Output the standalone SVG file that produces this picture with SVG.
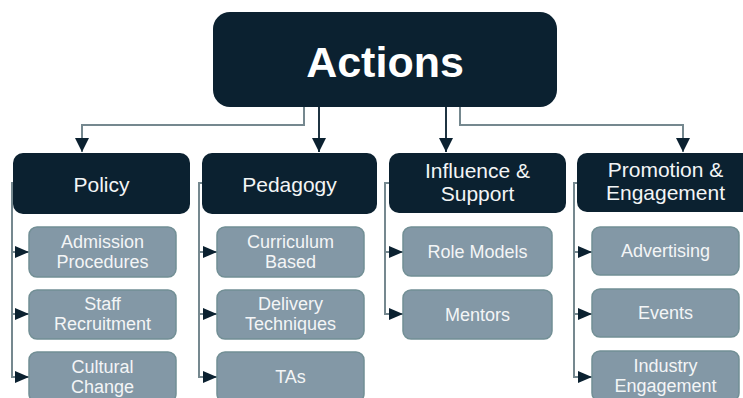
<svg xmlns="http://www.w3.org/2000/svg" width="743" height="398" viewBox="0 0 743 398">
  <style>
    .dark { fill: #0b2130; }
    .child { fill: #8398a6; stroke: #728f95; stroke-width: 1.5; }
    .t { font-family: "Liberation Sans", Arial, sans-serif; text-anchor: middle; }
    .title { font-size: 43px; font-weight: bold; fill: #ffffff; }
    .head { font-size: 21px; fill: #f3f5f6; }
    .sub { font-size: 18px; fill: #f3f5f6; }
    .lg { fill: none; stroke: #75888f; stroke-width: 2; }
    .ld { fill: none; stroke: #1f3442; stroke-width: 2; }
  </style>
  <defs>
    <marker id="ad" viewBox="0 0 14 14" refX="14" refY="7" markerWidth="14" markerHeight="14" markerUnits="userSpaceOnUse" orient="auto">
      <path d="M0,0 L14,7 L0,14 z" fill="#0b2130"/>
    </marker>
    <marker id="as" viewBox="0 0 14 12" refX="14" refY="6" markerWidth="14" markerHeight="12" markerUnits="userSpaceOnUse" orient="auto">
      <path d="M0,0 L14,6 L0,12 z" fill="#0b2130"/>
    </marker>
  </defs>

  <g id="connectors">
    <path class="lg" d="M304,107 V125 H82 V152" marker-end="url(#ad)"/>
    <path class="ld" d="M319,107 V152" marker-end="url(#ad)"/>
    <path class="ld" d="M446,107 V152" marker-end="url(#ad)"/>
    <path class="lg" d="M460,107 V125 H683 V152" marker-end="url(#ad)"/>

    <path class="lg" d="M15,183 H12 V252 H29" marker-end="url(#as)"/>
    <path class="lg" d="M12,252 V314 H29" marker-end="url(#as)"/>
    <path class="lg" d="M12,314 V377 H29" marker-end="url(#as)"/>

    <path class="lg" d="M204,183 H199 V252 H217" marker-end="url(#as)"/>
    <path class="lg" d="M199,252 V314 H217" marker-end="url(#as)"/>
    <path class="lg" d="M199,314 V377 H217" marker-end="url(#as)"/>

    <path class="lg" d="M391,183 H385 V252 H403" marker-end="url(#as)"/>
    <path class="lg" d="M385,252 V314 H403" marker-end="url(#as)"/>

    <path class="lg" d="M579,183 H574 V252 H592" marker-end="url(#as)"/>
    <path class="lg" d="M574,252 V314 H592" marker-end="url(#as)"/>
    <path class="lg" d="M574,314 V377 H592" marker-end="url(#as)"/>
  </g>

  <g id="actions">
    <rect class="dark" x="213" y="12" width="344" height="95" rx="17"/>
    <text class="t title" x="385" y="77">Actions</text>
  </g>

  <g id="policy">
    <rect class="dark" x="13" y="153" width="177" height="61" rx="10"/>
    <text class="t head" x="101.5" y="192">Policy</text>
  </g>
  <g id="pedagogy">
    <rect class="dark" x="202" y="153" width="175" height="61" rx="10"/>
    <text class="t head" x="289.5" y="192">Pedagogy</text>
  </g>
  <g id="influence">
    <rect class="dark" x="389" y="153" width="177" height="60" rx="10"/>
    <text class="t head" x="477.5" y="178">Influence &amp;</text>
    <text class="t head" x="477.5" y="201">Support</text>
  </g>
  <g id="promotion">
    <rect class="dark" x="577" y="153" width="177" height="59" rx="10"/>
    <text class="t head" x="665.5" y="177">Promotion &amp;</text>
    <text class="t head" x="665.5" y="200">Engagement</text>
  </g>

  <g id="admission">
    <rect class="child" x="29" y="227" width="147" height="50" rx="8"/>
    <text class="t sub" x="102.5" y="248">Admission</text>
    <text class="t sub" x="102.5" y="268">Procedures</text>
  </g>
  <g id="staff">
    <rect class="child" x="29" y="290" width="147" height="49" rx="8"/>
    <text class="t sub" x="102.5" y="310">Staff</text>
    <text class="t sub" x="102.5" y="330">Recruitment</text>
  </g>
  <g id="cultural">
    <rect class="child" x="29" y="352" width="147" height="50" rx="8"/>
    <text class="t sub" x="102.5" y="373">Cultural</text>
    <text class="t sub" x="102.5" y="393">Change</text>
  </g>

  <g id="curriculum">
    <rect class="child" x="217" y="227" width="147" height="50" rx="8"/>
    <text class="t sub" x="290.5" y="248">Curriculum</text>
    <text class="t sub" x="290.5" y="268">Based</text>
  </g>
  <g id="delivery">
    <rect class="child" x="217" y="290" width="147" height="49" rx="8"/>
    <text class="t sub" x="290.5" y="310">Delivery</text>
    <text class="t sub" x="290.5" y="330">Techniques</text>
  </g>
  <g id="tas">
    <rect class="child" x="217" y="352" width="147" height="50" rx="8"/>
    <text class="t sub" x="290.5" y="383">TAs</text>
  </g>

  <g id="role-models">
    <rect class="child" x="403" y="227" width="149" height="49" rx="8"/>
    <text class="t sub" x="477.5" y="258">Role Models</text>
  </g>
  <g id="mentors">
    <rect class="child" x="403" y="290" width="149" height="49" rx="8"/>
    <text class="t sub" x="477.5" y="321">Mentors</text>
  </g>

  <g id="advertising">
    <rect class="child" x="592" y="227" width="147" height="48" rx="8"/>
    <text class="t sub" x="665.5" y="257">Advertising</text>
  </g>
  <g id="events">
    <rect class="child" x="592" y="289" width="147" height="48" rx="8"/>
    <text class="t sub" x="665.5" y="319">Events</text>
  </g>
  <g id="industry">
    <rect class="child" x="592" y="351" width="147" height="50" rx="8"/>
    <text class="t sub" x="665.5" y="372">Industry</text>
    <text class="t sub" x="665.5" y="392">Engagement</text>
  </g>
</svg>
